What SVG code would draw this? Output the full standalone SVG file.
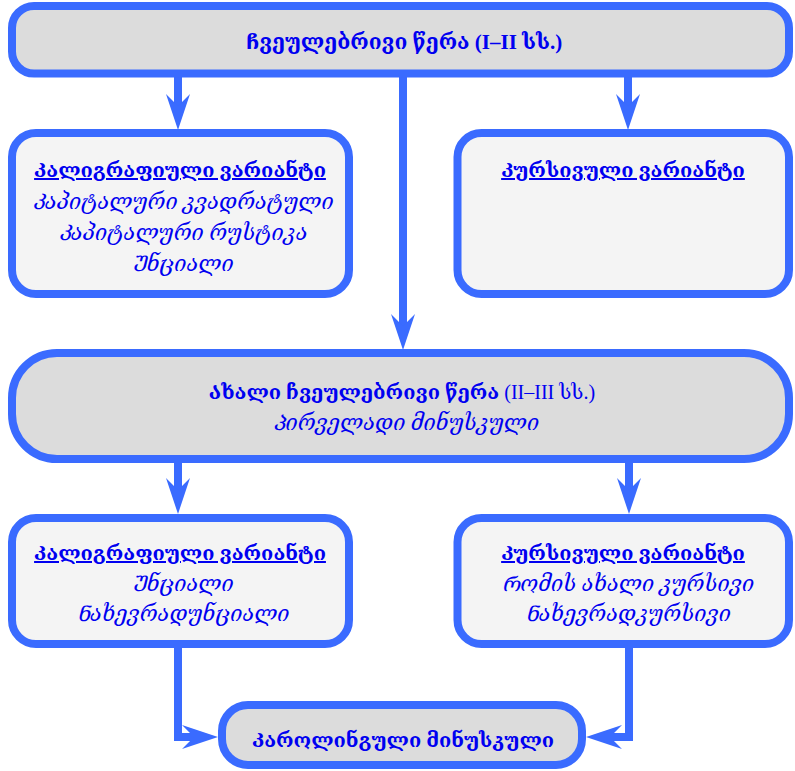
<svg xmlns="http://www.w3.org/2000/svg" width="795" height="771" viewBox="0 0 795 771">
<style>
.box{stroke:#3a6bff;stroke-width:8}
.main{fill:#dcdcdc}
.sub{fill:#f4f4f4}
.conn{fill:none;stroke:#3a6bff;stroke-width:8}
text{font-family:"Liberation Serif","DejaVu Serif","Noto Serif Georgian","Noto Sans Georgian",serif;fill:#0000f0;text-anchor:middle;font-size:20px}
.b{font-weight:bold}
.t{font-weight:bold;font-size:21px}
.u{font-weight:bold;text-decoration:underline}
.i{font-style:italic;font-size:21.5px}
</style>
<defs>
<marker id="ah" markerUnits="userSpaceOnUse" markerWidth="40" markerHeight="30" refX="0" refY="0" orient="auto" overflow="visible">
<path d="M22,0 L-14,-12 L-2,0 L-14,12 Z" fill="#3a6bff"/>
</marker>
</defs>
<g id="connectors">
<path class="conn" d="M178,77 V108" marker-end="url(#ah)"/>
<path class="conn" d="M403,77 V328" marker-end="url(#ah)"/>
<path class="conn" d="M628,77 V108" marker-end="url(#ah)"/>
<path class="conn" d="M178,463 V492" marker-end="url(#ah)"/>
<path class="conn" d="M629,463 V492" marker-end="url(#ah)"/>
<path class="conn" d="M178,648 V737 H196" marker-end="url(#ah)"/>
<path class="conn" d="M629,648 V737 H608" marker-end="url(#ah)"/>
</g>
<g id="n1">
<rect class="box main" x="12" y="6" width="777" height="67.5" rx="22"/>
<text class="t" x="404" y="49">Ჩვეულებრივი წერა (I–II სს.)</text>
</g>
<g id="n2">
<rect class="box sub" x="12" y="133" width="337" height="161" rx="24"/>
<text class="u" x="180" y="177">Კალიგრაფიული ვარიანტი</text>
<text class="i" x="183" y="209">Კაპიტალური კვადრატული</text>
<text class="i" x="183" y="240">Კაპიტალური რუსტიკა</text>
<text class="i" x="183" y="271">Უნციალი</text>
</g>
<g id="n3">
<rect class="box sub" x="457.5" y="133" width="331.5" height="161" rx="24"/>
<text class="u" x="623" y="177">Კურსივული ვარიანტი</text>
</g>
<g id="n4">
<rect class="box main" x="12" y="353" width="777" height="106" rx="45"/>
<text x="402" y="399"><tspan class="b">Ახალი ჩვეულებრივი წერა</tspan> (II–III სს.)</text>
<text class="i" x="406" y="430">Პირველადი მინუსკული</text>
</g>
<g id="n5">
<rect class="box sub" x="12" y="518" width="337" height="126" rx="24"/>
<text class="u" x="180" y="560">Კალიგრაფიული ვარიანტი</text>
<text class="i" x="183" y="591">Უნციალი</text>
<text class="i" x="183" y="621">Ნახევრადუნციალი</text>
</g>
<g id="n6">
<rect class="box sub" x="457.5" y="518" width="331.5" height="126" rx="24"/>
<text class="u" x="623" y="560">Კურსივული ვარიანტი</text>
<text class="i" x="628" y="591">Რომის ახალი კურსივი</text>
<text class="i" x="628" y="621">Ნახევრადკურსივი</text>
</g>
<g id="n7">
<rect class="box main" x="222" y="705" width="360" height="60" rx="26"/>
<text class="b" x="403" y="747">Კაროლინგული მინუსკული</text>
</g>
</svg>
